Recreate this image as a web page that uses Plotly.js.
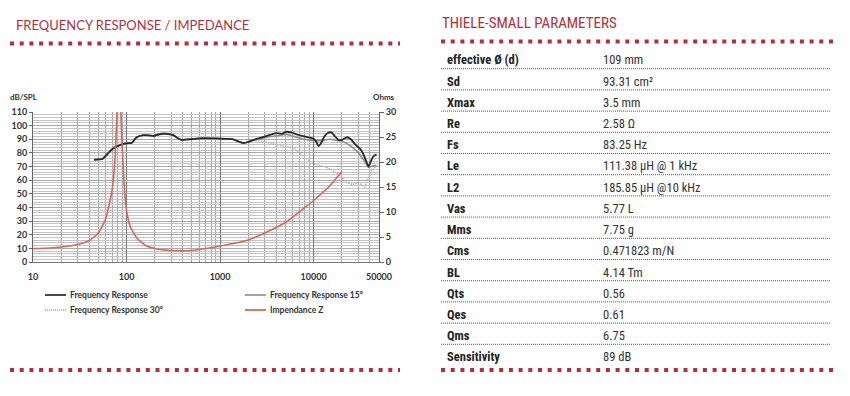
<!DOCTYPE html>
<html>
<head>
<meta charset="utf-8">
<script src="https://cdn.plot.ly/plotly-3.0.1.min.js"></script>
<style>
html,body{margin:0;padding:0;background:#fff;}
#chart{width:850px;height:396px;}
</style>
</head>
<body>
<div id="chart"></div>
<script>
// ---------- DATA ----------
const frFreq = [45,50,55,61,66,72,80,89,100,114,128,151,175,194,220,248,280,316,350,389,430,478,540,611,800,1000,1200,1380,1550,1780,2000,2270,2700,3160,3540,4000,4500,5160,5800,6600,7500,9180,10000,10700,11300,12000,13000,14300,15500,17000,18500,20000,22700,25000,28000,31500,34000,36500,38600,40500,43000,47000];
const frDb   = [75,75.2,75.5,78.4,81,83.3,85,86.3,87,87.5,91.4,93,92.8,92.4,93.5,94,93.8,93,91,89.5,89.8,90,90.3,90.7,90.7,90.5,90.3,90,88.5,87.2,88,89.5,91,92.5,93.5,94.5,94,95.5,95,93.5,92.5,91.2,90.3,88,85,87,92,94.8,95,92,89.5,89.5,91.5,90,86,83,79,74,70,73,77,79];

const fr15Freq = [45,50,55,61,66,72,80,89,100,114,128,151,175,194,220,248,280,316,350,389,430,478,540,611,800,1000,1200,1380,1550,1780,2000,2270,2700,3160,4000,5160,6600,8000,10000,12000,15000,18000,20000,25000,30000,35000,38600,43000,47000];
const fr15Db   = [75,75.2,75.5,78.4,81,83.3,85,86.3,87,87.5,91.4,93,92.8,92.4,93.8,94.5,94.2,93,91,89.5,89.8,90,90.3,90.7,90.7,90.5,90.3,90,88.5,87.4,88,89.3,90.5,91.5,92.5,93.5,91.5,90,89,89,90,89,88.5,85,80,74,69.5,70.5,71];

const fr30Freq = [45,50,55,61,66,72,80,89,100,114,128,151,175,194,220,248,280,316,350,389,430,478,540,611,800,1000,1200,1380,1550,1780,2000,2270,2800,3500,4000,5000,6000,7000,8000,9000,10000,11000,13000,15000,17000,20000,23000,26000,30000,33000,35000,38000,42000,46000];
const fr30Db   = [75,75.2,75.5,78.4,81,83.3,85,86.3,87,87.5,91.4,93,92.8,92.4,93.5,94,93.8,93,91,89.5,89.8,90,90.3,90.7,90.7,90.5,90.3,90,88.5,87.2,88,89,88.5,87,86,84.5,84,80,77,74,72,71,70,68,66,62,58,57,58,56.5,55,61,67,70];

const zFreq = [10,15,20,30,40,50,60,70,75,78,81,83.25,85,88,92,96,100,105,110,130,160,200,300,500,1000,2000,3000,5000,7000,10000,15000,20000];
const zOhm  = [2.67,2.8,3.0,3.5,4.3,5.8,8.7,14.3,20,27,36,42,36,27,19,13.5,10.3,8.3,7,4.7,3.3,2.7,2.3,2.3,3.2,4.4,5.8,7.9,10,12.3,15.3,18.1];

const xTickVals = [10,100,1000,10000,50000];
const xTickText = ['10','100','1000','10000','50000'];
const yTickVals = [0,10,20,30,40,50,60,70,80,90,100,110];
const yTickText = ['0','10','20','30','40','50','60','70','80','90','100','110'];
const y2TickVals = [0,5,10,15,20,25,30];
const y2TickText = ['0','5','10','15','20','25','30'];

const seriesNames = ['Frequency Response','Frequency Response 15°','Frequency Response 30°','Impendance Z'];

const tsLabels = ['effective Ø (d)','Sd','Xmax','Re','Fs','Le','L2','Vas','Mms','Cms','BL','Qts','Qes','Qms','Sensitivity'];
const tsValues = ['109 mm','93.31 cm²','3.5 mm','2.58 Ω','83.25 Hz','111.38 μH @ 1 kHz','185.85 μH @10 kHz','5.77 L','7.75 g','0.471823 m/N','4.14 Tm','0.56','0.61','6.75','89 dB'];

// ---------- HELPERS (pixel -> paper) ----------
const W = 850, H = 396;
const px = x => x / W;
const py = y => 1 - y / H;
const bold = arr => arr.map(s => '<b>' + s + '</b>');

const RED = '#b2303c';
const tickFont = {family:'Lato, "Open Sans", sans-serif', size:9, color:'#333'};

const traces = [
  {x: fr30Freq, y: fr30Db, name: seriesNames[2], type:'scatter', mode:'lines',
   line:{color:'#b4b4b4', width:1.5, dash:'1.5px,1px', shape:'spline', smoothing:0.6}, xaxis:'x', yaxis:'y', hoverinfo:'skip'},
  {x: fr15Freq, y: fr15Db, name: seriesNames[1], type:'scatter', mode:'lines',
   line:{color:'#8e8e8e', width:1.6, shape:'spline', smoothing:0.6}, xaxis:'x', yaxis:'y', hoverinfo:'skip'},
  {x: frFreq, y: frDb, name: seriesNames[0], type:'scatter', mode:'lines',
   line:{color:'#2a2a2a', width:1.8, shape:'spline', smoothing:0.6}, xaxis:'x', yaxis:'y', hoverinfo:'skip'},
  {x: zFreq, y: zOhm, name: seriesNames[3], type:'scatter', mode:'lines',
   line:{color:'#d06a5c', width:1.6, shape:'spline', smoothing:0.5}, xaxis:'x', yaxis:'y2', hoverinfo:'skip'}
];

// plot area in pixels
const PL = 33, PR = 379, PT = 112, PB = 262;

const layout = {
  width: W, height: H,
  margin:{l:0,r:0,t:0,b:0},
  paper_bgcolor:'#fff', plot_bgcolor:'#fff',
  showlegend:false,
  xaxis:{
    type:'log', domain:[px(PL), px(PR)], range:[1, Math.log10(50000)],
    tickmode:'array', tickvals:xTickVals, ticktext:bold(xTickText),
    tickfont:tickFont, ticklabelstandoff:6,
    showgrid:true, gridcolor:'#7a7a7a', gridwidth:1,
    minor:{dtick:'D1', showgrid:true, gridcolor:'#a8a8a8', gridwidth:1},
    showline:true, linecolor:'#777', linewidth:1, zeroline:false, ticks:'', ticklen:0,
    anchor:'y', fixedrange:true
  },
  yaxis:{
    domain:[py(PB), py(PT)], range:[0,110],
    tickmode:'array', tickvals:yTickVals, ticktext:bold(yTickText),
    tickfont:tickFont, showgrid:true, gridcolor:'#a8a8a8', gridwidth:1,
    minor:{dtick:2, showgrid:true, gridcolor:'#c4c4c4', gridwidth:1},
    showline:true, linecolor:'#666', linewidth:1, zeroline:false,
    ticks:'outside', ticklen:3, tickcolor:'#666', fixedrange:true
  },
  yaxis2:{
    overlaying:'y', side:'right', anchor:'x', range:[0,30],
    tickmode:'array', tickvals:y2TickVals, ticktext:bold(y2TickText),
    tickfont:tickFont, showgrid:false, zeroline:false,
    showline:true, linecolor:'#666', linewidth:1,
    ticks:'outside', ticklen:4, tickcolor:'#666', fixedrange:true
  },
  shapes:[], annotations:[]
};

// Titles
layout.annotations.push({xref:'paper', yref:'paper', x:px(14), y:py(25), xanchor:'left', yanchor:'middle',
  text:'FREQUENCY RESPONSE / IMPEDANCE', showarrow:false,
  font:{family:'Lato, "Open Sans", sans-serif', size:13, color:RED}});
layout.annotations.push({xref:'paper', yref:'paper', x:px(440), y:py(23), xanchor:'left', yanchor:'middle',
  text:'THIELE-SMALL PARAMETERS', showarrow:false,
  font:{family:'"Liberation Sans Narrow", "Roboto Condensed", Roboto, sans-serif', size:15, color:RED}});

// Axis unit labels
layout.annotations.push({xref:'paper', yref:'paper', x:px(8), y:py(97), xanchor:'left', yanchor:'middle',
  text:'<b>dB/SPL</b>', showarrow:false, font:{family:'Lato, sans-serif', size:8, color:'#333'}});
layout.annotations.push({xref:'paper', yref:'paper', x:px(397), y:py(97), xanchor:'right', yanchor:'middle',
  text:'<b>Ohms</b>', showarrow:false, font:{family:'Lato, sans-serif', size:8, color:'#333'}});

// Red dotted rules
const redDots = (x0, x1, y) => ({type:'line', xref:'paper', yref:'paper', x0:px(x0), x1:px(x1), y0:py(y), y1:py(y),
  line:{color:RED, width:4, dash:'4px,5.7px'}});
layout.shapes.push(redDots(10, 400, 43.5));
layout.shapes.push(redDots(10, 400, 370));
layout.shapes.push(redDots(441, 834, 41.5));
layout.shapes.push(redDots(441, 834, 370));

// Legend (custom, below plot)
const legendItems = [
  {x:45, y:295, color:'#333', width:1.8, dash:'solid'},
  {x:245, y:295, color:'#999', width:1.8, dash:'solid'},
  {x:45, y:310, color:'#aaa', width:1.3, dash:'1px,1px'},
  {x:245, y:310, color:'#d06a5c', width:1.8, dash:'solid'}
];
legendItems.forEach((it, i) => {
  layout.shapes.push({type:'line', xref:'paper', yref:'paper', x0:px(it.x), x1:px(it.x+21), y0:py(it.y), y1:py(it.y),
    line:{color:it.color, width:it.width, dash:it.dash}});
  layout.annotations.push({xref:'paper', yref:'paper', x:px(it.x+23), y:py(it.y), xanchor:'left', yanchor:'middle',
    text:'<b>' + seriesNames[i] + '</b>', showarrow:false, font:{family:'Lato, sans-serif', size:8.5, color:'#333'}});
});

// Thiele-Small table
const rowTop = 60, rowPitch = 21.2;
tsLabels.forEach((lab, i) => {
  const yc = rowTop + rowPitch * i;
  layout.annotations.push({xref:'paper', yref:'paper', x:px(445), y:py(yc), xanchor:'left', yanchor:'middle',
    text:'<b>' + lab + '</b>', showarrow:false,
    font:{family:'"Liberation Sans Narrow", "Roboto Condensed", Roboto, sans-serif', size:12.5, color:'#222'}});
  layout.annotations.push({xref:'paper', yref:'paper', x:px(601), y:py(yc), xanchor:'left', yanchor:'middle',
    text:tsValues[i], showarrow:false,
    font:{family:'"Liberation Sans Narrow", "Roboto Condensed", Roboto, sans-serif', size:12.5, color:'#333'}});
  if (i < tsLabels.length - 1) {
    const ys = yc + 8.7;
    layout.shapes.push({type:'line', xref:'paper', yref:'paper', x0:px(441), x1:px(831), y0:py(ys), y1:py(ys),
      line:{color:'#555', width:1, dash:'1px,1px'}});
  }
});

Plotly.newPlot('chart', traces, layout, {staticPlot:true, displayModeBar:false});
</script>
</body>
</html>
